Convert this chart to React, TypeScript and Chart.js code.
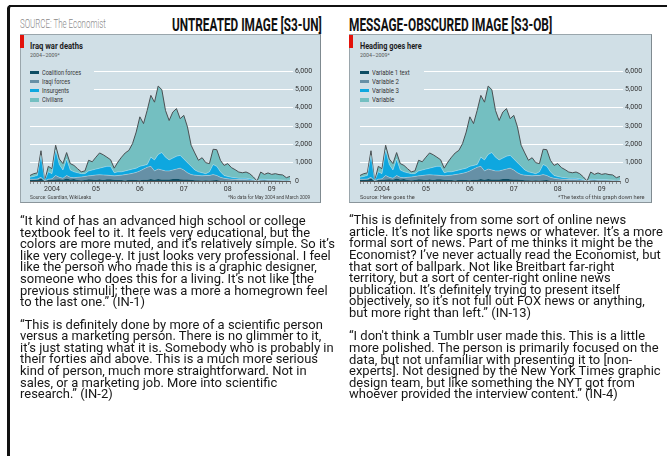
import React, { useEffect, useLayoutEffect, useRef } from "react";
import { Chart, registerables } from "chart.js";

Chart.register(...registerables);

// ---------- data ----------
const yearLabels = ["2004", "05", "06", "07", "08", "09"];
const months: string[] = [];
yearLabels.forEach((y) => {
  for (let m = 1; m <= 12; m++) months.push(`${y}-${m}`);
});

// monthly deaths, Jan 2004 .. Dec 2009 (0 = no data)
const coalition = [
  50, 50, 60, 140, 0, 50, 60, 80, 90, 70, 140, 80,
  110, 60, 40, 50, 90, 80, 60, 90, 60, 100, 90, 70,
  60, 55, 30, 75, 70, 60, 45, 65, 70, 105, 70, 110,
  85, 80, 80, 105, 125, 100, 80, 85, 65, 40, 40, 25,
  40, 30, 40, 50, 20, 30, 15, 20, 25, 15, 15, 15,
  15, 15, 0, 20, 25, 15, 10, 10, 10, 5, 10, 5,
];
const iraqi = [
  50, 50, 50, 60, 0, 50, 60, 220, 110, 80, 160, 120,
  70, 140, 180, 200, 190, 220, 270, 250, 270, 220, 210, 210,
  240, 265, 320, 305, 350, 410, 505, 585, 680, 695, 480, 540,
  515, 470, 470, 495, 525, 600, 520, 365, 285, 280, 260, 255,
  260, 270, 310, 250, 180, 120, 105, 80, 65, 65, 65, 65,
  45, 25, 0, 30, 25, 25, 30, 30, 20, 25, 10, 15,
];
const insurgents = [
  100, 150, 190, 1200, 0, 400, 280, 1400, 700, 450, 900, 400,
  320, 250, 180, 150, 270, 300, 320, 360, 420, 480, 500, 170,
  200, 180, 200, 220, 230, 230, 250, 200, 150, 500, 600, 800,
  950, 750, 600, 650, 700, 700, 600, 550, 450, 280, 200, 170,
  100, 200, 550, 500, 300, 150, 130, 100, 90, 70, 70, 70,
  60, 40, 0, 50, 40, 40, 40, 40, 30, 20, 20, 20,
];
const civilians = [
  100, 150, 140, 250, 0, 300, 270, 250, 300, 350, 350, 350,
  350, 220, 100, 150, 580, 450, 650, 830, 680, 500, 360, 250,
  530, 800, 980, 1070, 1390, 1970, 2700, 2280, 2950, 3370, 3150, 3730,
  3430, 2550, 2150, 2510, 2600, 2000, 2380, 1950, 1150, 930, 630, 820,
  600, 450, 830, 910, 630, 550, 700, 530, 440, 340, 300, 340,
  280, 140, 0, 390, 270, 360, 280, 320, 290, 280, 140, 210,
];
const seriesValues = [coalition, iraqi, insurgents, civilians];
const seriesColors = ["#0e4d63", "#6690a6", "#0ea7df", "#74bfc1"];

const leftLegend = ["Coalition forces", "Iraqi forces", "Insurgents", "Civilians"];
const rightLegend = ["Variable 1 text", "Variable 2", "Variable 3", "Variable"];

const quoteL1 = [
  "\u201CIt kind of has an advanced high school or college",
  "textbook feel to it. It feels very educational, but the",
  "colors are more muted, and it\u2019s relatively simple. So it\u2019s",
  "like very college-y. It just looks very professional. I feel",
  "like the person who made this is a graphic designer,",
  "someone who does this for a living. It\u2019s not like [the",
  "previous stimuli]; there was a more a homegrown feel",
  "to the last one.\u201D (IN-1)",
];
const quoteL2 = [
  "\u201CThis is definitely done by more of a scientific person",
  "versus a marketing person. There is no glimmer to it,",
  "it\u2019s just stating what it is. Somebody who is probably in",
  "their forties and above. This is a much more serious",
  "kind of person, much more straightforward. Not in",
  "sales, or a marketing job. More into scientific",
  "research.\u201D (IN-2)",
];
const quoteR1 = [
  "\u201CThis is definitely from some sort of online news",
  "article. It\u2019s not like sports news or whatever. It\u2019s a more",
  "formal sort of news. Part of me thinks it might be the",
  "Economist? I\u2019ve never actually read the Economist, but",
  "that sort of ballpark. Not like Breitbart far-right",
  "territory, but a sort of center-right online news",
  "publication. It\u2019s definitely trying to present itself",
  "objectively, so it\u2019s not full out FOX news or anything,",
  "but more right than left.\u201D (IN-13)",
];
const quoteR2 = [
  "\u201CI don't think a Tumblr user made this. This is a little",
  "more polished. The person is primarily focused on the",
  "data, but not unfamiliar with presenting it to [non-",
  "experts]. Not designed by the New York Times graphic",
  "design team, but like something the NYT got from",
  "whoever provided the interview content.\u201D (IN-4)",
];

const FONT = "Roboto, 'Liberation Sans', sans-serif";
const PANEL_BG = "#d0dfe6";

// ---------- helpers ----------
function useFitX(ref: React.RefObject<HTMLElement>, target: number, measure: (el: HTMLElement) => number) {
  useLayoutEffect(() => {
    const run = () => {
      const el = ref.current;
      if (!el) return;
      el.style.transform = "none";
      const w = measure(el);
      if (w > 0) el.style.transform = `scaleX(${target / w})`;
    };
    run();
    (document as any).fonts?.ready?.then(run);
  }, [target]);
}

function Fit(props: {
  x: number; y: number; w: number; size: number; weight?: number | string;
  color?: string; text: string; lh?: number;
}) {
  const ref = useRef<HTMLSpanElement>(null);
  useFitX(ref as any, props.w, (el) => el.offsetWidth);
  return (
    <span
      ref={ref}
      style={{
        position: "absolute", left: props.x, top: props.y, whiteSpace: "pre",
        fontSize: props.size, fontWeight: props.weight ?? 400, color: props.color ?? "#222",
        fontFamily: FONT, lineHeight: `${props.lh ?? props.size}px`, transformOrigin: "0 0",
        display: "inline-block",
      }}
    >
      {props.text}
    </span>
  );
}

function Quote(props: { x: number; y: number; w: number; lines: string[] }) {
  const ref = useRef<HTMLDivElement>(null);
  useFitX(ref as any, props.w, (el) => {
    let m = 0;
    el.querySelectorAll("span").forEach((s) => { m = Math.max(m, (s as HTMLElement).offsetWidth); });
    return m;
  });
  return (
    <div
      ref={ref}
      style={{
        position: "absolute", left: props.x, top: props.y, fontFamily: FONT, fontSize: 13.5,
        lineHeight: "11.6px", color: "#161616", transformOrigin: "0 0", width: 520,
      }}
    >
      {props.lines.map((l, i) => (
        <div key={i} style={{ whiteSpace: "pre", height: 11.6 }}>
          <span>{l}</span>
        </div>
      ))}
    </div>
  );
}

function AreaChart(props: { left: number; top: number }) {
  const ref = useRef<HTMLCanvasElement>(null);
  useEffect(() => {
    if (!ref.current) return;
    const tickFont = { size: 7, family: FONT };
    const chart = new Chart(ref.current, {
      type: "line",
      data: {
        labels: months,
        datasets: seriesValues.map((vals, i) => ({
          label: leftLegend[i],
          data: vals,
          backgroundColor: seriesColors[i],
          borderColor: i === 3 ? "#4a4f52" : i === 0 ? seriesColors[0] : "rgba(255,255,255,0.55)",
          borderWidth: i === 3 ? 1 : i === 0 ? 0 : 0.6,
          fill: i === 0 ? "origin" : "-1",
          pointRadius: 0,
          tension: 0,
        })),
      },
      options: {
        responsive: false,
        maintainAspectRatio: false,
        animation: false,
        events: [],
        layout: { padding: { left: 9, top: 9, right: 0, bottom: 0 } },
        plugins: { legend: { display: false }, tooltip: { enabled: false } },
        scales: {
          x: {
            z: 1,
            grid: { display: true, drawOnChartArea: false, drawTicks: true, tickLength: 3, color: "#5a5a5a", lineWidth: 0.6 },
            border: { display: true, color: "#555", width: 1 },
            ticks: {
              autoSkip: false, maxRotation: 0, minRotation: 0, padding: 1, font: tickFont, color: "#333",
              callback: (_v: any, i: number) => (i % 12 === 6 ? yearLabels[Math.floor(i / 12)] : ""),
            },
            afterFit: (s: any) => { s.height = 17; },
          },
          y: {
            position: "right",
            stacked: true,
            min: 0,
            max: 6000,
            grid: {
              color: (c: any) => (c.tick && c.tick.value === 0 ? "rgba(0,0,0,0)" : "#ffffff"),
              lineWidth: 1, tickLength: 3, drawTicks: true,
            },
            border: { display: false },
            ticks: {
              stepSize: 1000, padding: 2, font: tickFont, color: "#333",
              callback: (v: any) => Number(v).toLocaleString("en-US"),
            },
            afterFit: (s: any) => { s.width = 30; },
          },
        },
      } as any,
    });
    return () => chart.destroy();
  }, []);
  return (
    <canvas
      ref={ref}
      width={299}
      height={136}
      style={{ position: "absolute", left: props.left, top: props.top, width: 299, height: 136 }}
    />
  );
}

function Panel(props: {
  x0: number; boxLeft: number; boxWidth: number; title: string; titleW: number;
  legend: string[]; legendW: number[]; source: string; sourceW: number;
  note: string; noteRight: number; noteW: number;
}) {
  const { x0 } = props;
  return (
    <>
      <div
        style={{
          position: "absolute", left: props.boxLeft, top: 34, width: props.boxWidth, height: 169,
          boxSizing: "border-box", background: PANEL_BG, border: "1px solid #9aa6ac",
          borderRightColor: "#7f8a90", borderBottomColor: "#8a959b",
        }}
      />
      <div style={{ position: "absolute", left: props.boxLeft, top: 35, width: 4, height: 13, background: "#e3120b" }} />
      <Fit x={30 + x0} y={41} w={props.titleW} size={8.5} weight={700} color="#1c1c1c" text={props.title} lh={10} />
      <Fit x={30 + x0} y={52} w={30} size={5.5} color="#555" text={"2004\u20132009*"} lh={6} />
      <AreaChart left={21 + x0} top={62} />
      <div style={{ position: "absolute", left: 27 + x0, top: 67, width: 67, height: 37, background: PANEL_BG }} />
      {props.legend.map((t, i) => (
        <React.Fragment key={i}>
          <div
            style={{
              position: "absolute", left: 30 + x0, top: 70.7 + i * 9.1, width: 9, height: 3.6,
              background: seriesColors[i],
            }}
          />
          <Fit x={41.5 + x0} y={68.5 + i * 9.1} w={props.legendW[i]} size={7} color="#333" text={t} lh={8} />
        </React.Fragment>
      ))}
      <Fit x={30 + x0} y={193.5} w={props.sourceW} size={6} color="#444" text={props.source} lh={6.5} />
      <Fit x={props.noteRight - props.noteW + x0} y={193.5} w={props.noteW} size={6} color="#444" text={props.note} lh={6.5} />
    </>
  );
}

export default function App() {
  return (
    <div style={{ position: "absolute", left: 0, top: 0, width: 667, height: 456, overflow: "hidden", background: "#fff" }}>
      <div style={{ position: "absolute", left: 9, top: 5, width: 658, height: 2, background: "#111" }} />
      <div style={{ position: "absolute", left: 7, top: 8, width: 3, height: 448, background: "#111" }} />
      <div
        style={{
          position: "absolute", left: 7, top: 5, width: 8, height: 8, boxSizing: "border-box",
          borderTop: "2px solid #111", borderLeft: "3px solid #111", borderTopLeftRadius: 4,
        }}
      />
      <Fit x={20} y={18} w={86} size={12} weight={300} color="#8a8a8a" text="SOURCE: The Economist" lh={12} />
      <Fit x={172} y={16} w={150} size={18} weight={700} color="#111" text="UNTREATED IMAGE [S3-UN]" lh={18} />
      <Fit x={349} y={16} w={203} size={18} weight={700} color="#111" text="MESSAGE-OBSCURED IMAGE [S3-OB]" lh={18} />

      <Panel
        x0={0} boxLeft={20} boxWidth={301} title="Iraq war deaths" titleW={53}
        legend={leftLegend} legendW={[39, 28, 27, 21]}
        source="Source: Guardian, WikiLeaks" sourceW={61}
        note="*No data for May 2004 and March 2009" noteRight={310} noteW={82}
      />
      <Panel
        x0={330} boxLeft={349} boxWidth={303} title="Heading goes here" titleW={62}
        legend={rightLegend} legendW={[38, 27, 27, 22]}
        source="Source: Here goes the" sourceW={55}
        note="*The texts of this graph down here" noteRight={315} noteW={87}
      />

      <Quote x={20} y={215} w={315} lines={quoteL1} />
      <Quote x={20} y={318.7} w={314} lines={quoteL2} />
      <Quote x={349} y={214.3} w={314} lines={quoteR1} />
      <Quote x={349} y={330.4} w={312} lines={quoteR2} />
    </div>
  );
}
